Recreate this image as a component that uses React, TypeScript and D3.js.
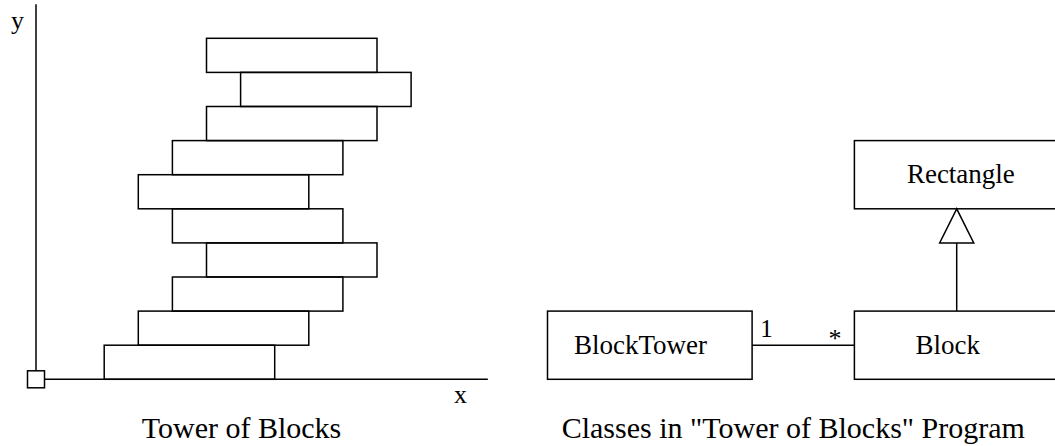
import * as d3 from 'd3';

// tower: left edge of each block, bottom to top, in block-height units
const blockLefts = [2, 3, 4, 5, 4, 3, 4, 5, 6, 5];
const blockLen = 5;

const axisLabels = ['x', 'y'];
const captions = ['Tower of Blocks', 'Classes in "Tower of Blocks" Program'];

// class diagram boxes, grid units
const classNames = ['BlockTower', 'Block', 'Rectangle'];
const classX = [15, 24, 24];
const classY = [0, 0, 5];
const classW = 6;
const classH = 2;
const multiplicity = ['1', '*'];

const W = 1055;
const H = 446;
const U = 34.1;
const OX = 36;
const OY = 379.3;
const FONT = '"Liberation Serif", "Times New Roman", serif';

export default function App() {
  const x = d3.scaleLinear().domain([0, 30]).range([OX, OX + 30 * U]);
  const y = d3.scaleLinear().domain([0, 11]).range([OY, OY - 11 * U]);
  const sw = 1.5;

  const [bt, bl, rc] = classNames.map((name, i) => ({
    name,
    x0: x(classX[i]),
    x1: x(classX[i] + classW),
    y0: y(classY[i] + classH),
    y1: y(classY[i]),
  }));
  const labelInset = [26.5, 61, 52.5];
  const midX = x(classX[1] + classW / 2);

  // generalization triangle, apex at Rectangle bottom
  const tri = d3.line()([
    [midX, y(5)],
    [x(classX[1] + classW / 2 - 0.5), y(4)],
    [x(classX[1] + classW / 2 + 0.5), y(4)],
  ]) + 'Z';

  return (
    <svg width={W} height={H} style={{ position: 'absolute', left: 0, top: 0, background: '#fff' }}>
      <g fill="none" stroke="#000" strokeWidth={sw}>
        {/* axes */}
        <line x1={x(0)} x2={x(0)} y1={y(11)} y2={OY - 8.5} />
        <line x1={OX + 8.5} x2={x(13.25)} y1={y(0)} y2={y(0)} />
        <rect x={OX - 8.5} y={OY - 8.5} width={17} height={17} />
        {/* blocks */}
        {blockLefts.map((b, i) => (
          <rect key={i} x={x(b)} y={y(i + 1)} width={x(b + blockLen) - x(b)} height={y(i) - y(i + 1)} />
        ))}
        {/* class boxes */}
        {[bt, bl, rc].map((c) => (
          <rect key={c.name} x={c.x0} y={c.y0} width={c.x1 - c.x0} height={c.y1 - c.y0} />
        ))}
        <line x1={bt.x1} x2={bl.x0} y1={y(1)} y2={y(1)} />
        <line x1={midX} x2={midX} y1={bl.y0} y2={y(4)} />
        <path d={tri} />
      </g>
      <g fontFamily={FONT} fill="#000">
        <text x={17.5} y={29.4} fontSize={26} textAnchor="middle">{axisLabels[1]}</text>
        <text x={460.5} y={403.3} fontSize={26} textAnchor="middle">{axisLabels[0]}</text>
        {[bt, bl, rc].map((c, i) => (
          <text key={c.name} x={c.x0 + labelInset[i]} y={(c.y0 + c.y1) / 2 + 8.5} fontSize={27}>{c.name}</text>
        ))}
        <text x={766.5} y={336.7} fontSize={25} textAnchor="middle">{multiplicity[0]}</text>
        <text x={835} y={347} fontSize={26} textAnchor="middle">{multiplicity[1]}</text>
        <text x={241.5} y={438.3} fontSize={30} textAnchor="middle">{captions[0]}</text>
        <text x={793.3} y={438.3} fontSize={30} textAnchor="middle">{captions[1]}</text>
      </g>
    </svg>
  );
}
